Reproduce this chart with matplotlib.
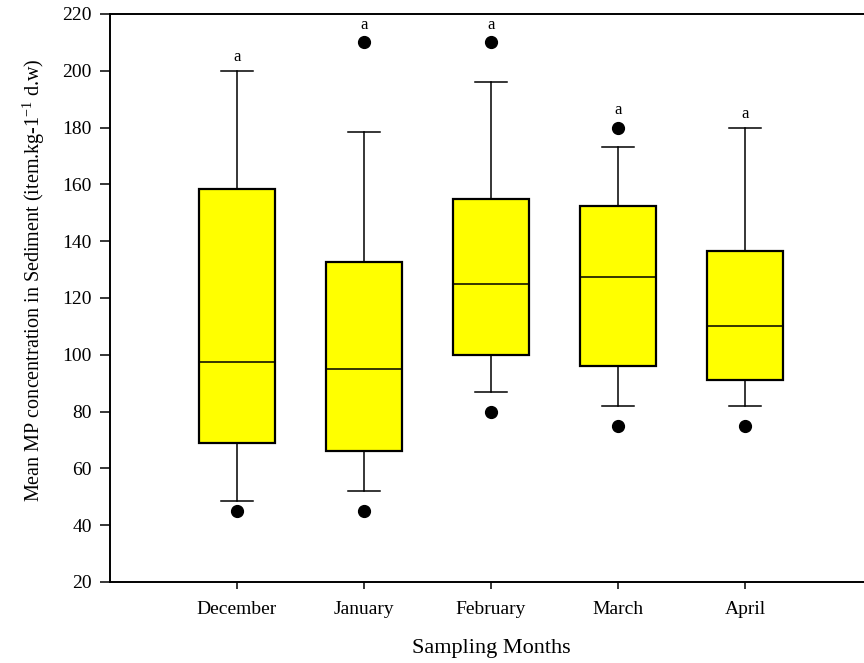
import matplotlib
matplotlib.use("Agg")
import matplotlib.pyplot as plt

plt.rcParams["font.family"] = ["Liberation Serif", "DejaVu Serif"]
plt.rcParams["mathtext.fontset"] = "custom"
plt.rcParams["mathtext.rm"] = "Liberation Serif"
plt.rcParams["mathtext.it"] = "Liberation Serif:italic"

months = ["December", "January", "February", "March", "April"]
whisker_low = [48.5, 52, 87, 82, 82]
q1 = [69, 66, 100, 96, 91]
median = [97.5, 95, 125, 127.5, 110]
q3 = [158.5, 132.5, 155, 152.5, 136.5]
whisker_high = [200, 178.5, 196, 173, 180]
outliers = [[45], [45, 210], [80, 210], [75, 180], [75]]
letters = ["a", "a", "a", "a", "a"]

stats = []
for i, name in enumerate(months):
    stats.append({
        "label": name,
        "whislo": whisker_low[i],
        "q1": q1[i],
        "med": median[i],
        "q3": q3[i],
        "whishi": whisker_high[i],
        "fliers": outliers[i],
    })

fig = plt.figure(figsize=(8.64, 6.63), dpi=100)
ax = fig.add_axes([0.1273, 0.1222, 0.882, 0.8567])

positions = list(range(1, len(months) + 1))
ax.bxp(
    stats,
    positions=positions,
    widths=0.6,
    patch_artist=True,
    boxprops=dict(facecolor="#ffff00", edgecolor="black", linewidth=1.6),
    medianprops=dict(color="black", linewidth=1.1),
    whiskerprops=dict(color="black", linewidth=1.1),
    capprops=dict(color="black", linewidth=1.1),
    capwidths=0.25,
    flierprops=dict(marker="o", markerfacecolor="black", markeredgecolor="black", markersize=8.5),
)

for pos, i in zip(positions, range(len(months))):
    top = max([whisker_high[i]] + outliers[i])
    offset = 7 if len(outliers[i]) > 1 else 4
    ax.annotate(letters[i], (pos, top), xytext=(0, offset), textcoords="offset points",
                ha="center", va="bottom", fontsize=12)

ax.set_xlim(0, 6)
ax.set_ylim(20, 220)
ax.set_yticks(range(20, 221, 20))
ax.set_xticks(positions)
ax.set_xticklabels(months)
ax.tick_params(axis="both", direction="out", width=1.1, labelsize=14, colors="black")
ax.tick_params(axis="y", length=7, pad=6)
ax.tick_params(axis="x", length=5, pad=9)
for spine in ax.spines.values():
    spine.set_linewidth(1.4)

ax.set_xlabel("Sampling Months", fontsize=16, labelpad=15)
ax.set_ylabel("Mean MP concentration in Sediment (item.kg-1$^{-1}$ d.w)", fontsize=14.5)
ax.yaxis.set_label_coords(-0.082, 0.532)

fig.savefig("out.png", dpi=100, facecolor="white")
